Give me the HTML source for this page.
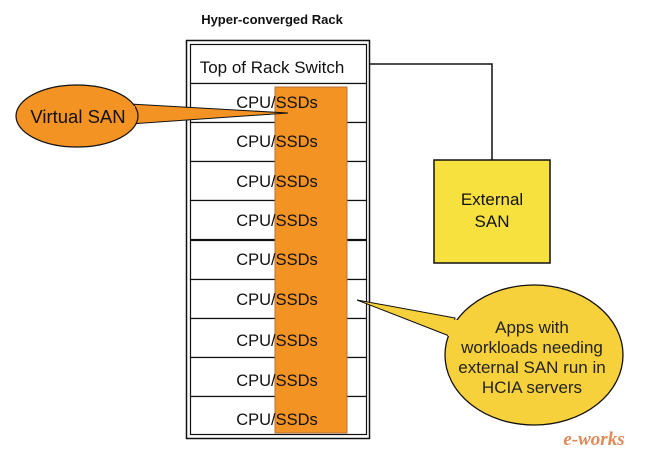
<!DOCTYPE html>
<html><head><style>body{margin:0;background:#fff}svg{display:block}</style></head><body>
<svg width="648" height="465" viewBox="0 0 648 465" font-family="Liberation Sans, sans-serif">
<rect width="648" height="465" fill="#fff"/>
<text x="272" y="24" font-size="13" font-weight="bold" text-anchor="middle" fill="#111">Hyper-converged Rack</text>
<rect x="186.5" y="40.5" width="183" height="398" fill="#fff" stroke="#111" stroke-width="1.5"/>
<rect x="190.5" y="44.5" width="176" height="39" fill="#fff" stroke="#111" stroke-width="1.2"/>
<text x="272" y="73" font-size="17" text-anchor="middle" fill="#111">Top of Rack Switch</text>
<g stroke="#111" stroke-width="1.2" fill="#fff">
<rect x="190.5" y="83.5" width="176" height="39"/>
<rect x="190.5" y="122.5" width="176" height="39"/>
<rect x="190.5" y="161.5" width="176" height="39"/>
<rect x="190.5" y="200.5" width="176" height="39"/>
<rect x="190.5" y="240.5" width="176" height="39"/>
<rect x="190.5" y="279.5" width="176" height="39"/>
<rect x="190.5" y="318.5" width="176" height="39"/>
<rect x="190.5" y="357.5" width="176" height="39"/>
<rect x="190.5" y="396.5" width="176" height="38"/>
</g>
<rect x="275" y="87" width="72" height="346" fill="#f39323" stroke="#b07040" stroke-width="1"/>
<g font-size="16.5" fill="#111" text-anchor="middle">
<text x="277" y="108">CPU/SSDs</text>
<text x="277" y="147">CPU/SSDs</text>
<text x="277" y="187">CPU/SSDs</text>
<text x="277" y="226">CPU/SSDs</text>
<text x="277" y="265">CPU/SSDs</text>
<text x="277" y="305">CPU/SSDs</text>
<text x="277" y="346">CPU/SSDs</text>
<text x="277" y="386">CPU/SSDs</text>
<text x="277" y="425">CPU/SSDs</text>
</g>
<polyline points="370,64 492,64 492,160" fill="none" stroke="#111" stroke-width="1.5"/>
<rect x="434" y="160" width="116" height="103" fill="#f7e13f" stroke="#111" stroke-width="1.5"/>
<text x="492" y="205" font-size="17" text-anchor="middle" fill="#111">External</text>
<text x="492" y="227" font-size="17" text-anchor="middle" fill="#111">SAN</text>
<path d="M130,104 L288,113 L130,124 Z" fill="#f39323" stroke="#111" stroke-width="1"/>
<ellipse cx="77" cy="116" rx="61" ry="31" fill="#f39323" stroke="#111" stroke-width="1.2"/>
<rect x="125" y="106" width="10" height="16" fill="#f39323"/>
<text x="78" y="123" font-size="18.5" text-anchor="middle" fill="#111">Virtual SAN</text>
<path d="M455,318 L357,300 L452,337 Z" fill="#f7d13c" stroke="#111" stroke-width="1"/>
<ellipse cx="534" cy="355" rx="89" ry="70" fill="#f7d13c" stroke="#111" stroke-width="1.3"/>
<rect x="448" y="320" width="12" height="16" fill="#f7d13c"/>
<g font-size="17" fill="#222" text-anchor="middle">
<text x="532" y="333">Apps with</text>
<text x="532" y="353">workloads needing</text>
<text x="532" y="373">external SAN run in</text>
<text x="532" y="393">HCIA servers</text>
</g>
<text x="594" y="445" font-size="19" font-style="italic" font-weight="bold" font-family="Liberation Serif, serif" fill="#e08a5a" text-anchor="middle">e-works</text>
</svg>
</body></html>
